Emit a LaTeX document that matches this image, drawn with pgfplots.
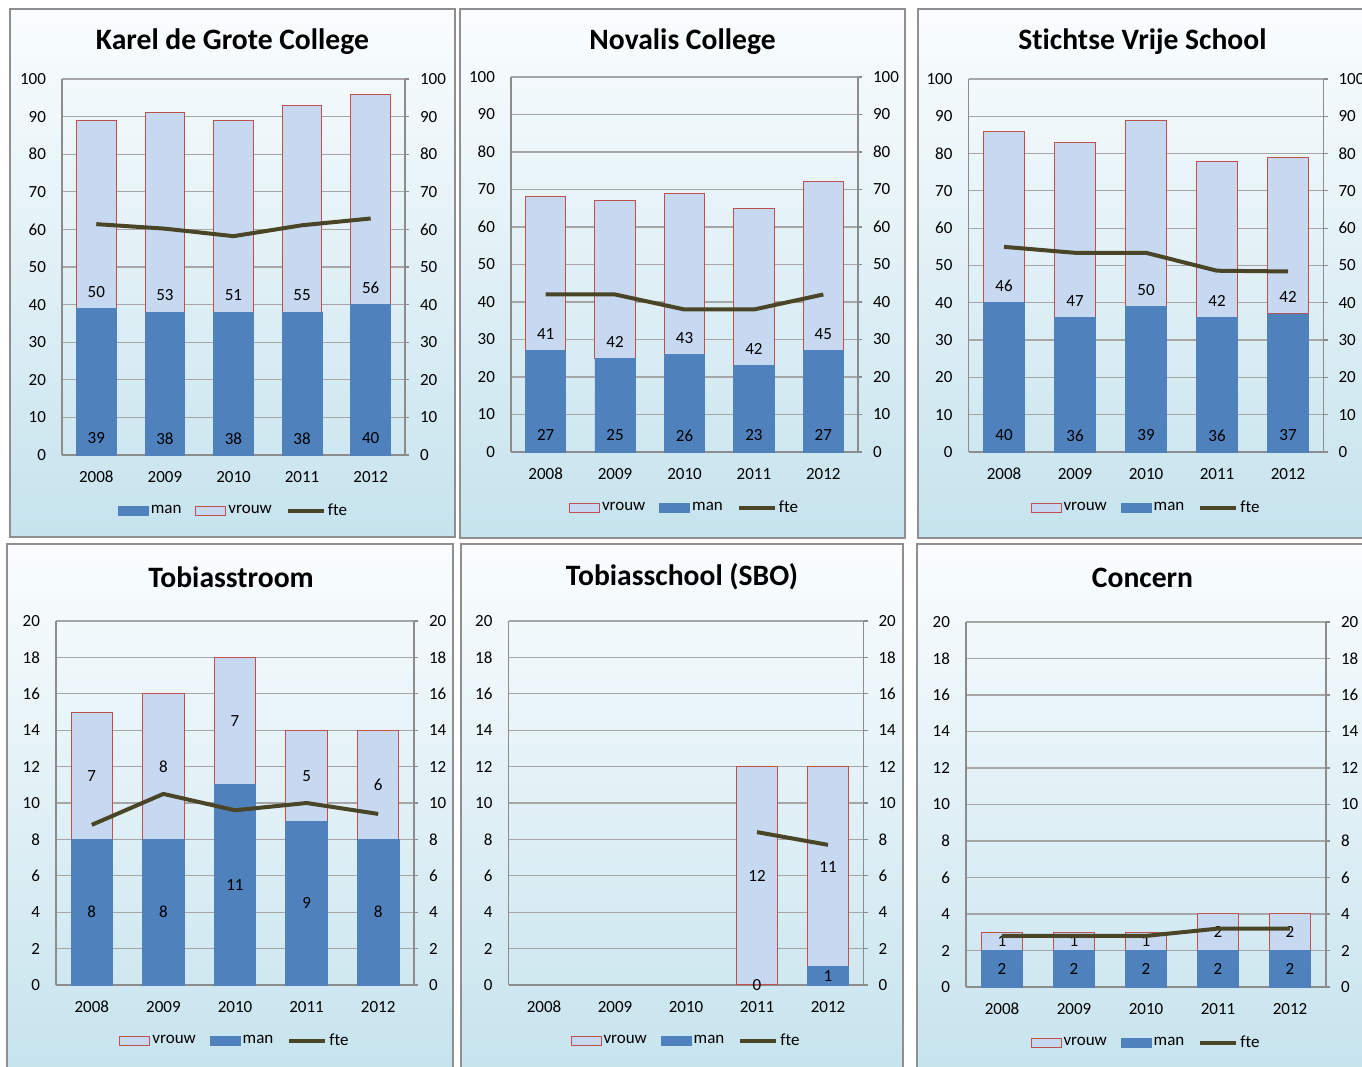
\documentclass[border=0pt]{standalone}
\usepackage{pgfplots}
\usepackage{pgfplotstable}
\pgfplotsset{compat=1.18}
\usepackage{fontspec}
\setmainfont{Carlito}[Ligatures=NoCommon]

\definecolor{manc}{HTML}{4F81BD}
\definecolor{vrouwc}{HTML}{C6D9F1}
\definecolor{vrouwe}{HTML}{C0504D}
\definecolor{ftec}{HTML}{4A4526}
\definecolor{gridc}{HTML}{A6A6A6}
\definecolor{axisc}{HTML}{8C8C8C}
\definecolor{framec}{HTML}{8F8F8F}
\definecolor{bgtop}{HTML}{FAFDFE}
\definecolor{bgbot}{HTML}{C6E3ED}

\pgfplotstableread{
x man vrouw fte
0 39 50 61.4
1 38 53 60.2
2 38 51 58.2
3 38 55 61.1
4 40 56 62.9
}\karel
\pgfplotstableread{
x man vrouw fte
0 27 41 42
1 25 42 42
2 26 43 38
3 23 42 38
4 27 45 42
}\novalis
\pgfplotstableread{
x man vrouw fte
0 40 46 55
1 36 47 53.4
2 39 50 53.4
3 36 42 48.6
4 37 42 48.4
}\stichtse
\pgfplotstableread{
x man vrouw fte
0 8 7 8.8
1 8 8 10.5
2 11 7 9.6
3 9 5 10.0
4 8 6 9.4
}\tobias
\pgfplotstableread{
x man vrouw fte
3 0 12 8.4
4 1 11 7.7
}\sbo
\pgfplotstableread{
x man vrouw fte
0 2 1 2.8
1 2 1 2.8
2 2 1 2.8
3 2 2 3.2
4 2 2 3.2
}\concern

\pgfplotsset{
  base/.style={scale only axis, anchor=south west, xmin=-0.5, xmax=4.5, ymin=0,
    /pgf/number format/assume math mode=true,
    tick label style={font=\fontsize{8.5}{10}\selectfont, text=black}},
  barax/.style={base, ybar stacked, bar width=0.58, clip=false,
    axis x line*=bottom, axis y line*=left,
    axis line style={axisc, line width=0.6pt},
    ymajorgrids, grid style={gridc, line width=0.6pt},
    xtick={0,...,4}, xticklabels={2008,2009,2010,2011,2012},
    xtick style={draw=none}, ytick style={draw=none},
    xticklabel style={anchor=center, yshift=-11pt},
    yticklabel style={anchor=east, xshift=-4.5pt},
    visualization depends on={rawy \as \lbl},
    nodes near coords={\pgfmathprintnumber{\lbl}},
    every node near coord/.append style={anchor=center, text=black,
      font=\fontsize{8.5}{10}\selectfont}},
  lineax/.style={base, axis x line=none, axis y line*=right, clip=false,
    axis line style={axisc, line width=0.6pt},
    ytick style={axisc, line width=0.6pt}, tick align=outside, major tick length=2pt,
    yticklabel style={anchor=west, xshift=2pt},
    legend columns=-1,
    legend style={at={(0.5,0)}, anchor=center, yshift=-28pt, draw=none, fill=none,
      font=\fontsize{8.5}{10}\selectfont, nodes={inner xsep=1pt},
      /tikz/every even column/.append style={column sep=6pt}}},
  manbar/.style={fill=manc, draw=manc, line width=0.4pt},
  vrouwbar/.style={fill=vrouwc, draw=vrouwe, line width=0.5pt},
  fteline/.style={ftec, line width=2pt, mark=none, line join=round,
    legend image code/.code={\draw[ftec, line width=2pt] (0pt,0pt) -- (18pt,0pt);}},
}
\newcommand\manleg{\addlegendimage{legend image code/.code={\fill[manc] (0pt,-2.3pt) rectangle (15pt,2.3pt);}}}
\newcommand\vrouwleg{\addlegendimage{legend image code/.code={\draw[vrouwe, fill=vrouwc, line width=0.5pt] (0pt,-2.3pt) rectangle (15pt,2.3pt);}}}

\begin{document}
\begin{tikzpicture}[title/.style={font=\bfseries\fontsize{14.8}{17}\selectfont, text=black}]
\useasboundingbox (0,0) rectangle (681pt,533.5pt);
\fill[white] (0,0) rectangle (681pt,533.5pt);
\foreach \a/\b/\c/\d in {5/265/227.5/529, 230/264.5/452.5/529, 459/264.5/690/529,
    3.5/-5/226.5/261.5, 230.5/-5/451.5/261.5, 458.5/-5/690/261.5}{
  \shade[top color=bgtop, bottom color=bgbot] (\a pt,\b pt) rectangle (\c pt,\d pt);
  \draw[framec, line width=0.8pt] (\a pt,\b pt) rectangle (\c pt,\d pt);
}

% Karel de Grote College
\begin{axis}[barax, at={(31pt,306pt)}, width=171.5pt, height=188pt, ymax=100, ytick={0,10,...,100},
  every node near coord/.append style={yshift={-\lbl*1.88pt/2+8.3pt}}]
\addplot[manbar] table[x=x,y=man]{\karel};
\addplot[vrouwbar] table[x=x,y=vrouw]{\karel};
\end{axis}
\begin{axis}[lineax, at={(31pt,306pt)}, width=171.5pt, height=188pt, ymax=100, ytick={0,10,...,100}]
\manleg \addlegendentry{man}
\vrouwleg \addlegendentry{vrouw}
\addplot[fteline] table[x=x,y=fte]{\karel}; \addlegendentry{fte}
\end{axis}
\node[title] at (116.25pt,512.5pt) {Karel de Grote College};

% Novalis College
\begin{axis}[barax, at={(255.5pt,307.5pt)}, width=173.5pt, height=187.5pt, ymax=100, ytick={0,10,...,100},
  every node near coord/.append style={yshift={-\lbl*1.875pt/2+8.3pt}}]
\addplot[manbar] table[x=x,y=man]{\novalis};
\addplot[vrouwbar] table[x=x,y=vrouw]{\novalis};
\end{axis}
\begin{axis}[lineax, at={(255.5pt,307.5pt)}, width=173.5pt, height=187.5pt, ymax=100, ytick={0,10,...,100}]
\vrouwleg \addlegendentry{vrouw}
\manleg \addlegendentry{man}
\addplot[fteline] table[x=x,y=fte]{\novalis}; \addlegendentry{fte}
\end{axis}
\node[title] at (341.25pt,512.5pt) {Novalis College};

% Stichtse Vrije School
\begin{axis}[barax, at={(484.25pt,307.5pt)}, width=177.5pt, height=186.5pt, ymax=100, ytick={0,10,...,100},
  every node near coord/.append style={yshift={-\lbl*1.865pt/2+8.3pt}}]
\addplot[manbar] table[x=x,y=man]{\stichtse};
\addplot[vrouwbar] table[x=x,y=vrouw]{\stichtse};
\end{axis}
\begin{axis}[lineax, at={(484.25pt,307.5pt)}, width=177.5pt, height=186.5pt, ymax=100, ytick={0,10,...,100}]
\vrouwleg \addlegendentry{vrouw}
\manleg \addlegendentry{man}
\addplot[fteline] table[x=x,y=fte]{\stichtse}; \addlegendentry{fte}
\end{axis}
\node[title] at (571.25pt,512.5pt) {Stichtse Vrije School};

% Tobiasstroom
\begin{axis}[barax, at={(28pt,41pt)}, width=179pt, height=182pt, ymax=20, ytick={0,2,...,20}]
\addplot[manbar] table[x=x,y=man]{\tobias};
\addplot[vrouwbar] table[x=x,y=vrouw]{\tobias};
\end{axis}
\begin{axis}[lineax, at={(28pt,41pt)}, width=179pt, height=182pt, ymax=20, ytick={0,2,...,20}]
\vrouwleg \addlegendentry{vrouw}
\manleg \addlegendentry{man}
\addplot[fteline] table[x=x,y=fte]{\tobias}; \addlegendentry{fte}
\end{axis}
\node[title] at (115.5pt,245pt) {Tobiasstroom};

% Tobiasschool (SBO)
\begin{axis}[barax, at={(254.25pt,41pt)}, width=177.5pt, height=182pt, ymax=20, ytick={0,2,...,20}]
\addplot[manbar] table[x=x,y=man]{\sbo};
\addplot[vrouwbar] table[x=x,y=vrouw]{\sbo};
\end{axis}
\begin{axis}[lineax, at={(254.25pt,41pt)}, width=177.5pt, height=182pt, ymax=20, ytick={0,2,...,20}]
\vrouwleg \addlegendentry{vrouw}
\manleg \addlegendentry{man}
\addplot[fteline] table[x=x,y=fte]{\sbo}; \addlegendentry{fte}
% label of the zero-height man bar in 2011
\addplot[draw=none, mark=none, forget plot, point meta=explicit symbolic,
  nodes near coords, every node near coord/.style={anchor=center, text=black,
  font=\fontsize{8.5}{10}\selectfont}] coordinates {(3,0) [0]};
\end{axis}
\node[title] at (341pt,245pt) {Tobiasschool (SBO)};

% Concern
\begin{axis}[barax, at={(483pt,40pt)}, width=180pt, height=182.5pt, ymax=20, ytick={0,2,...,20}]
\addplot[manbar] table[x=x,y=man]{\concern};
\addplot[vrouwbar] table[x=x,y=vrouw]{\concern};
\end{axis}
\begin{axis}[lineax, at={(483pt,40pt)}, width=180pt, height=182.5pt, ymax=20, ytick={0,2,...,20}]
\vrouwleg \addlegendentry{vrouw}
\manleg \addlegendentry{man}
\addplot[fteline] table[x=x,y=fte]{\concern}; \addlegendentry{fte}
\end{axis}
\node[title] at (571.25pt,244.5pt) {Concern};
\end{tikzpicture}
\end{document}
